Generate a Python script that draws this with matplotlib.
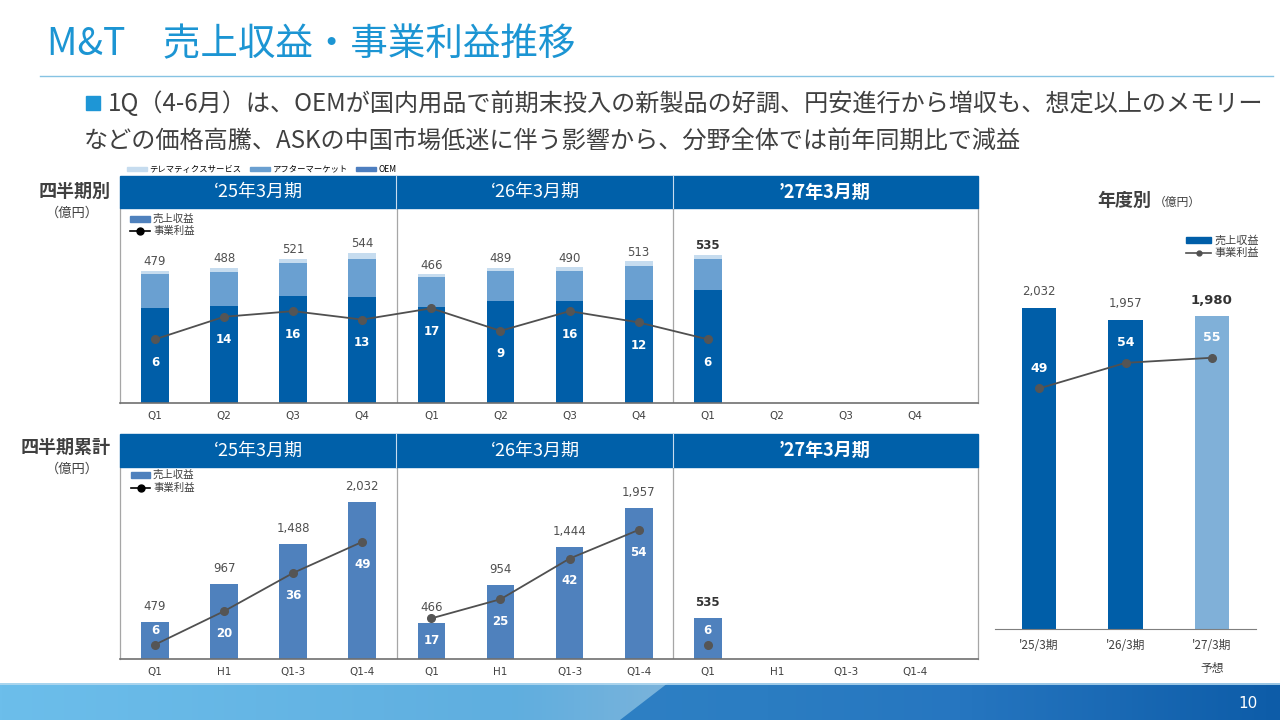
import matplotlib
matplotlib.use('Agg')
import numpy as np
import matplotlib.pyplot as plt
from matplotlib.patches import Rectangle, Polygon, Patch
from matplotlib.lines import Line2D

plt.rcParams['font.family'] = ['Noto Sans CJK JP', 'DejaVu Sans']

# 四半期別 (億円)
q_labels = ['Q1', 'Q2', 'Q3', 'Q4'] * 3
oem = [343, 352, 386, 383, 347, 367, 369, 373, 409]
aftermarket = [122, 121, 121, 136, 108, 111, 107, 123, 111]
telematics = [14, 15, 14, 25, 11, 11, 14, 17, 15]
q_sales = [479, 488, 521, 544, 466, 489, 490, 513, 535]
q_profit = [6, 14, 16, 13, 17, 9, 16, 12, 6]

# 四半期累計 (億円)
cum_labels = ['Q1', 'H1', 'Q1-3', 'Q1-4'] * 3
cum_sales = [479, 967, 1488, 2032, 466, 954, 1444, 1957, 535]
cum_profit = [6, 20, 36, 49, 17, 25, 42, 54, 6]

# 年度別 (億円)
years = ["'25/3期", "'26/3期", "'27/3期\n予想"]
annual_sales = [2032, 1957, 1980]
annual_profit = [49, 54, 55]

periods = ['‘25年3月期', '‘26年3月期', '’27年3月期']

W, H = 1280, 720
OEM_C = '#005EA8'
AM_C = '#6AA0D1'
TEL_C = '#C6DCEF'
CUM_C = '#4F81BD'
HDR_C = '#0060A9'
LINE_C = '#505050'
TXT_C = '#404040'
NUM_FONT = 'DejaVu Sans'


def box(x0, y0, x1, y1):
    return [x0 / W, 1 - y1 / H, (x1 - x0) / W, (y1 - y0) / H]


def fx(x):
    return x / W


def fy(y):
    return 1 - y / H


fig = plt.figure(figsize=(12.8, 7.2), dpi=100)

# タイトル
fig.text(fx(47), fy(45), 'M&T　売上収益・事業利益推移', fontsize=27, color='#1C95D3',
         va='center', ha='left')
fig.add_artist(Line2D([fx(40), fx(1273)], [fy(76), fy(76)], color='#86C3E3', lw=1))
fig.patches.append(Rectangle((fx(86), fy(110)), 14 / W, 14 / H, transform=fig.transFigure,
                             color='#1E96D6'))
line1 = fig.text(fx(108), fy(104), '1Q（4-6月）は、OEMが国内用品で前期末投入の新製品の好調、円安進行から増収も、想定以上のメモリー',
                 fontsize=17, color=TXT_C, va='center', ha='left')
line2 = fig.text(fx(84), fy(142), 'などの価格高騰、ASKの中国市場低迷に伴う影響から、分野全体では前年同期比で減益',
                 fontsize=17, color=TXT_C, va='center', ha='left')
r = fig.canvas.get_renderer()
w1 = line1.get_window_extent(renderer=r).width
fs = 17 * 1157 / w1
line1.set_fontsize(fs)
line2.set_fontsize(fs)

# 左側ラベル
fig.text(fx(75), fy(191), '四半期別', fontsize=13, fontweight='bold', color=TXT_C, ha='center', va='center')
fig.text(fx(72), fy(213), '（億円）', fontsize=9.5, color=TXT_C, ha='center', va='center')
fig.text(fx(66), fy(447), '四半期累計', fontsize=13, fontweight='bold', color=TXT_C, ha='center', va='center')
fig.text(fx(72), fy(469), '（億円）', fontsize=9.5, color=TXT_C, ha='center', va='center')


def header(y0, y1):
    fig.patches.append(Rectangle((fx(120), fy(y1)), (978 - 120) / W, (y1 - y0) / H,
                                 transform=fig.transFigure, color=HDR_C))
    for xd in [396, 673]:
        fig.add_artist(Line2D([fx(xd), fx(xd)], [fy(y0), fy(y1)], color='#C8DCEF', lw=0.8))
    for cx, p in zip([258, 535, 825], periods):
        fig.text(fx(cx), fy((y0 + y1) / 2), p, fontsize=13, color='white', ha='center', va='center',
                 fontweight='bold' if p.startswith('’27') else 'normal')


def frame(ax):
    ax.set_yticks([])
    ax.tick_params(axis='x', length=0, pad=6)
    for s in ['left', 'right', 'top']:
        ax.spines[s].set_color('#A6A6A6')
        ax.spines[s].set_linewidth(0.9)
    ax.spines['top'].set_visible(False)
    ax.spines['bottom'].set_color('#707070')
    ax.spines['bottom'].set_linewidth(1.2)
    ax.axvline(3.5, color='#A6A6A6', lw=0.9)
    ax.axvline(7.5, color='#A6A6A6', lw=0.9)


def small_legend(x0, x1, y_bar, y_line, patch_color, line_color, ms, fsize):
    # 凡例: 売上収益(棒) と 事業利益(折れ線)
    fig.patches.append(Rectangle((fx(x0), fy(y_bar + 3)), (x1 - x0) / W, 6 / H,
                                 transform=fig.transFigure, color=patch_color))
    fig.add_artist(Line2D([fx(x0), fx(x1)], [fy(y_line)] * 2, color=line_color, lw=1.2))
    fig.add_artist(Line2D([fx((x0 + x1) / 2)], [fy(y_line)], color=line_color, marker='o', ms=ms))
    fig.text(fx(x1 + 3), fy(y_bar), '売上収益', fontsize=fsize, color=TXT_C, va='center', ha='left')
    fig.text(fx(x1 + 3), fy(y_line), '事業利益', fontsize=fsize, color=TXT_C, va='center', ha='left')


# ---- 四半期別 ----
header(176, 208)
ax = fig.add_axes(box(120, 208, 978, 403))
x = np.arange(len(q_sales))
oem_a = np.array(oem)
am_a = np.array(aftermarket)
ax.bar(x, oem_a, 0.4, color=OEM_C)
ax.bar(x, am_a, 0.4, bottom=oem_a, color=AM_C)
ax.bar(x, telematics, 0.4, bottom=oem_a + am_a, color=TEL_C)
ax.set_xlim(-0.506, 11.91)
ax.set_ylim(0, 705)
ax.set_xticks(range(12))
ax.set_xticklabels(q_labels, fontsize=7.5, color=TXT_C, family=NUM_FONT)
frame(ax)
for i, v in enumerate(q_sales):
    last = i == len(q_sales) - 1
    ax.annotate(f'{v:,}', (i, v), xytext=(0, 6.5), textcoords='offset points', ha='center', va='center',
                fontsize=8.5, color='#333333' if last else '#505050', family=NUM_FONT,
                fontweight='bold' if last else 'normal')
ax2 = ax.twinx()
ax2.plot(x, q_profit, color=LINE_C, lw=1.3, marker='o', ms=5.5, mfc='#555555', mec='#555555')
ax2.set_ylim(-16.6, 52.6)
ax2.axis('off')
for i, v in enumerate(q_profit):
    ax2.annotate(str(v), (i, v), xytext=(0, -16.5), textcoords='offset points', ha='center', va='center',
                 fontsize=8.5, color='white', fontweight='bold', family=NUM_FONT)
small_legend(130, 150, 219, 230.5, CUM_C, 'black', 5, 7.5)
fig.legend(handles=[Patch(color=TEL_C, label='テレマティクスサービス'),
                    Patch(color='#6A9FD0', label='アフターマーケット'),
                    Patch(color='#4D7EBF', label='OEM')],
           ncol=3, loc='center left', bbox_to_anchor=(fx(127), fy(169.5)), frameon=False, fontsize=6,
           handlelength=2.4, handleheight=0.5, columnspacing=1.0, handletextpad=0.3,
           borderpad=0, borderaxespad=0)

# ---- 四半期累計 ----
header(434, 467)
axc = fig.add_axes(box(120, 467, 978, 659))
xc = np.arange(len(cum_sales))
axc.bar(xc, cum_sales, 0.4, color=CUM_C)
axc.set_xlim(-0.506, 11.91)
axc.set_ylim(0, 2481)
axc.set_xticks(range(12))
axc.set_xticklabels(cum_labels, fontsize=7.5, color=TXT_C, family=NUM_FONT)
frame(axc)
for i, v in enumerate(cum_sales):
    last = i == len(cum_sales) - 1
    axc.annotate(f'{v:,}', (i, v), xytext=(0, 11), textcoords='offset points', ha='center', va='center',
                 fontsize=8.5, color='#333333' if last else '#505050', family=NUM_FONT,
                 fontweight='bold' if last else 'normal')
axc2 = axc.twinx()
for seg in [slice(0, 4), slice(4, 8), slice(8, 9)]:
    axc2.plot(xc[seg], cum_profit[seg], color=LINE_C, lw=1.3, marker='o', ms=5.5,
              mfc='#555555', mec='#555555')
axc2.set_ylim(0, 80.3)
axc2.axis('off')
for i, v in enumerate(cum_profit):
    dy = -16 if v * 2.395 > 30 else 10
    axc2.annotate(str(v), (i, v), xytext=(0, dy), textcoords='offset points', ha='center', va='center',
                  fontsize=8.5, color='white', fontweight='bold', family=NUM_FONT)
small_legend(131, 150, 475, 488, CUM_C, 'black', 5, 7.5)

# ---- 年度別 ----
fig.text(fx(1124), fy(200), '年度別', fontsize=13, fontweight='bold', color=TXT_C, ha='center', va='center')
fig.text(fx(1177), fy(202), '（億円）', fontsize=8.5, color=TXT_C, ha='center', va='center')
axa = fig.add_axes(box(995, 260, 1256, 629))
xa = np.arange(len(annual_sales))
axa.bar(xa, annual_sales, 0.4, color=[OEM_C, OEM_C, '#80B0D8'])
axa.set_xlim(-0.509, 2.509)
axa.set_ylim(0, 2335)
axa.set_yticks([])
axa.set_xticks(xa)
axa.set_xticklabels(years, fontsize=8.5, color=TXT_C, linespacing=2.0)
axa.tick_params(axis='x', length=0, pad=7.5)
for s in ['left', 'right', 'top']:
    axa.spines[s].set_visible(False)
axa.spines['bottom'].set_color('#7F7F7F')
for i, v in enumerate(annual_sales):
    last = i == len(annual_sales) - 1
    axa.annotate(f'{v:,}', (i, v), xytext=(0, 11.5), textcoords='offset points', ha='center', va='center',
                 fontsize=9.5 if last else 8.5, color='#333333' if last else '#505050', family=NUM_FONT,
                 fontweight='bold' if last else 'normal')
axa2 = axa.twinx()
axa2.plot(xa, annual_profit, color=LINE_C, lw=1.3, marker='o', ms=5.5, mfc='#555555', mec='#555555')
axa2.set_ylim(2.0, 74.1)
axa2.axis('off')
for i, v in enumerate(annual_profit):
    axa2.annotate(str(v), (i, v), xytext=(0, 14.5), textcoords='offset points', ha='center', va='center',
                  fontsize=9, color='white', fontweight='bold', family=NUM_FONT)
small_legend(1186, 1211, 240, 253, OEM_C, LINE_C, 3.5, 8)

# ---- フッター ----
fax = fig.add_axes(box(0, 683, 1280, 720))
fax.set_xlim(0, 1280)
fax.set_ylim(720, 683)
fax.axis('off')


def gradient(stops, n=640):
    xs = np.linspace(0, 1, n)
    pos = [s[0] for s in stops]
    cols = [matplotlib.colors.to_rgb(s[1]) for s in stops]
    rgb = np.stack([np.interp(xs, pos, [c[k] for c in cols]) for k in range(3)], axis=-1)
    return np.tile(rgb[None, :, :], (4, 1, 1))


fax.imshow(gradient([(0, '#6CBEEB'), (0.4, '#5FAEDF'), (0.52, '#7AB3DB')]),
           extent=(0, 1280, 720, 683), aspect='auto')
im2 = fax.imshow(gradient([(0, '#3A8ACB'), (0.6, '#2B7DC2'), (0.75, '#2676C0'), (1, '#0D5CA8')]),
                 extent=(0, 1280, 720, 683), aspect='auto')
poly = Polygon([(668, 683), (1280, 683), (1280, 720), (620, 720)], closed=True,
               facecolor='none', edgecolor='none', transform=fax.transData)
fax.add_patch(poly)
im2.set_clip_path(poly)
fax.axhline(683.5, color='#B5DAF0', lw=1.2)
fig.text(fx(1248), fy(703), '10', fontsize=11, color='white', ha='center', va='center', family=NUM_FONT)

fig.savefig('out.png', dpi=100)
